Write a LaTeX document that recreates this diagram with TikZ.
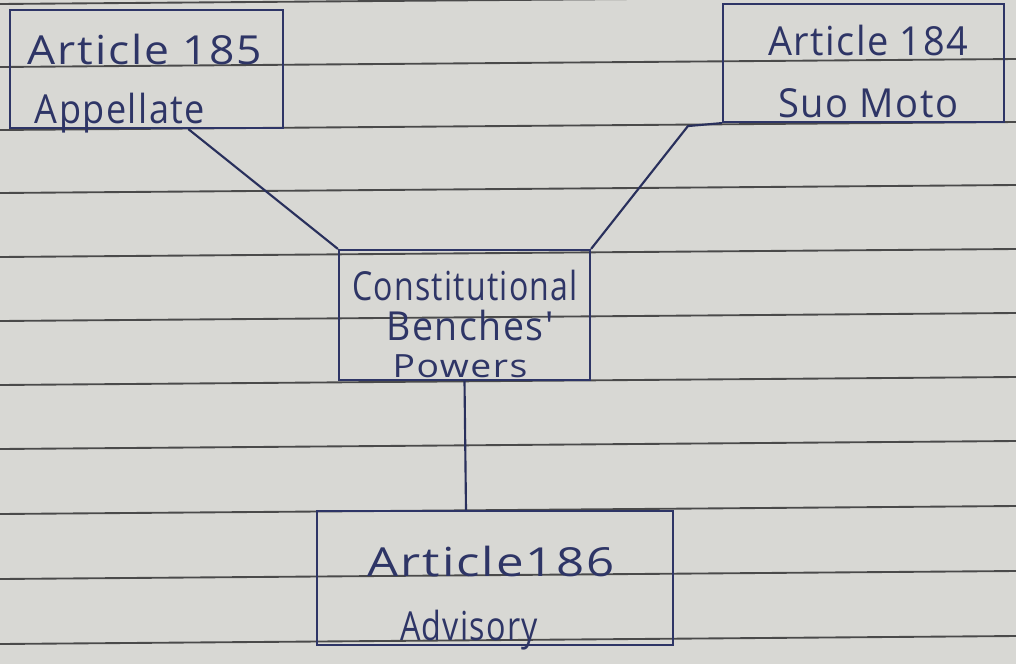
\documentclass[tikz,border=0pt]{standalone}
\usepackage{fontspec}
\setmainfont{Open Sans}
\newfontfamily\handfont[LetterSpace=4]{Open Sans}
\usetikzlibrary{calc}
\definecolor{paper}{HTML}{D8D8D4}
\definecolor{rulecol}{HTML}{4A4A4A}
\definecolor{ink}{HTML}{2E3566}
\newcommand\handw[2]{\resizebox{#1}{\height}{#2}}
\begin{document}
\begin{tikzpicture}[x=0.75pt,y=-0.75pt,
  boxnode/.style={draw=ink, line width=1.6pt, inner sep=0pt},
  conn/.style={draw=ink!90!black, line width=1.6pt, line join=round},
  txt/.style={text=ink, anchor=base, inner sep=0pt, font=\handfont\fontsize{30}{36}\selectfont},
  smalltxt/.style={txt, font=\handfont\fontsize{24}{28}\selectfont},
  ruled/.style={draw=rulecol, line width=1.4pt}]
\fill[paper] (0,0) rectangle (1016,664);
\useasboundingbox (0,0) rectangle (1016,664);
% ruled lines of the paper
\foreach \yy in {4,67,130,193,257,321,385,449,514,579,644}
  \draw[ruled] (0,\yy) -- (1016,\yy-8);

% boxes
\node[boxnode, minimum width=204.75pt, minimum height=88.5pt] (a185) at (146.5,69) {};
\node[boxnode, minimum width=210.75pt, minimum height=88.5pt] (a184) at (863.5,63) {};
\node[boxnode, minimum width=188.25pt, minimum height=97.5pt] (cbp) at (464.5,315) {};
\node[boxnode, minimum width=267pt, minimum height=100.5pt] (a186) at (495,578) {};

% texts
\node[txt] (t185a) at (145,64) {\handw{175.5pt}{Article 185}};
\node[txt] (t185b) at (120,123) {\handw{127.5pt}{Appellate}};
\node[txt] (t184a) at (868,55) {\handw{150pt}{Article 184}};
\node[txt] (t184b) at (868,117) {\handw{135pt}{Suo Moto}};
\node[txt] (tcbpa) at (465,300) {\handw{169.5pt}{Constitutional}};
\node[txt] (tcbpb) at (470,340) {\handw{125pt}{Benches'}};
\node[smalltxt] (tcbpc) at (460,377) {\handw{101pt}{Powers}};
\node[txt] (t186a) at (491,576) {\handw{185pt}{Article186}};
\node[txt] (t186b) at (469,640) {\handw{103.5pt}{Advisory}};

% connectors
\draw[conn] ($(a185.south west)!0.652!(a185.south east)$) -- (cbp.north west);
\draw[conn] (a184.south west) -- ++(-34,3) coordinate (bend) -- (cbp.north east);
\draw[conn] (cbp.south) -- ($(a186.north west)!0.419!(a186.north east)$);
\end{tikzpicture}
\end{document}
